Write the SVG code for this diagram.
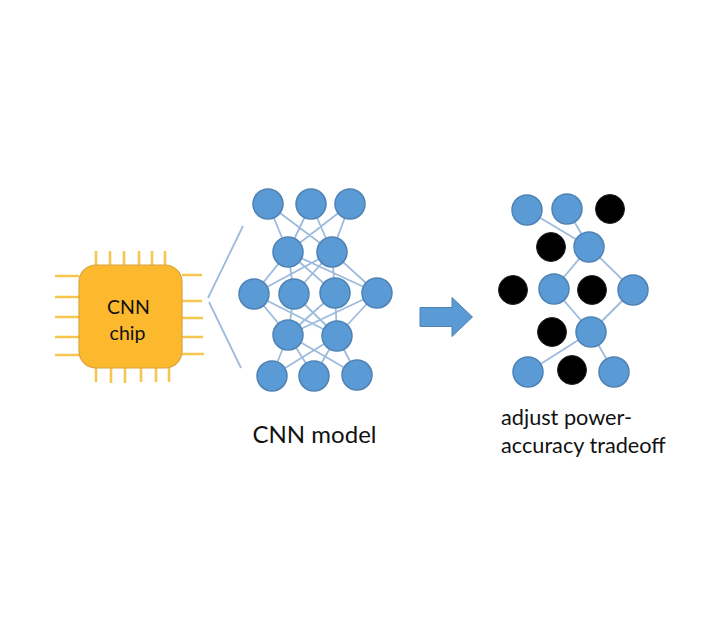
<svg xmlns="http://www.w3.org/2000/svg" width="720" height="630" viewBox="0 0 720 630">
<defs><style>
.n{fill:#5b9bd5;stroke:#4f82b4;stroke-width:1.5}
.k{fill:#000;stroke:#222;stroke-width:1}
.e{stroke:#9dbbdc;stroke-width:1.8;fill:none}
.p{stroke:#f6c64f;stroke-width:2.6;fill:none}
text{font-family:Lato,"Open Sans",sans-serif;fill:#111}
</style></defs>
<rect width="720" height="630" fill="#fff"/>
<g id="chip">
<path class="p" d="M96 251V265M110 251V265M124 251V265M139 251V265M152 251V265M165 251V265M96 368V382M111 368V383M125 368V383M141 368V382M156 368V382M169 368V382M55 276H79M55 297H79M55 317H79M55 337H79M55 355H79M182 275H202M182 301H202M182 318H203M182 337H203M182 354H204"/>
<rect x="79" y="265" width="103" height="103" rx="17" fill="#fdb92d" stroke="#d9a441" stroke-width="1.2"/>
<text x="128.500" y="313.500" font-size="19.500" text-anchor="middle">CNN</text>
<text x="127.500" y="340" font-size="19.500" text-anchor="middle">chip</text>
</g>
<g id="connectors">
<path class="e" d="M243 226L208 298M209 302L241 368"/>
<path class="e" d="M268 204L288 252M268 204L332 252M311 204L288 252M311 204L332 252M350 204L288 252M350 204L332 252M288 252L254 294M288 252L294 294M288 252L335 293M288 252L377 293M332 252L254 294M332 252L294 294M332 252L335 293M332 252L377 293M254 294L288 335M254 294L337 336M294 294L288 335M294 294L337 336M335 293L288 335M335 293L337 336M377 293L288 335M377 293L337 336M288 335L272 376M288 335L314 376M288 335L357 375M337 336L272 376M337 336L314 376M337 336L357 375"/>
<path class="e" d="M527 210L589 247M567 209L589 247M589 247L554 289M589 247L633 290M554 289L591 332M633 290L591 332M591 332L528 372M591 332L614 372"/>
</g>
<g id="model">
<circle class="n" cx="268" cy="204" r="15"/><circle class="n" cx="311" cy="204" r="15"/><circle class="n" cx="350" cy="204" r="15"/>
<circle class="n" cx="288" cy="252" r="15"/><circle class="n" cx="332" cy="252" r="15"/>
<circle class="n" cx="254" cy="294" r="15"/><circle class="n" cx="294" cy="294" r="15"/><circle class="n" cx="335" cy="293" r="15"/><circle class="n" cx="377" cy="293" r="15"/>
<circle class="n" cx="288" cy="335" r="15"/><circle class="n" cx="337" cy="336" r="15"/>
<circle class="n" cx="272" cy="376" r="15"/><circle class="n" cx="314" cy="376" r="15"/><circle class="n" cx="357" cy="375" r="15"/>
<text x="314.500" y="443" font-size="24" text-anchor="middle">CNN model</text>
</g>
<g id="arrow"><path d="M420 307.500H452V297.500L472.500 317L452 336.500V326.500H420Z" fill="#5b9bd5" stroke="#4f82b4" stroke-width="1"/></g>
<g id="pruned">
<circle class="n" cx="527" cy="210" r="15"/><circle class="n" cx="567" cy="209" r="15"/><circle class="k" cx="610" cy="209" r="14.500"/>
<circle class="k" cx="551" cy="247" r="14.500"/><circle class="n" cx="589" cy="247" r="15"/>
<circle class="k" cx="513" cy="290" r="14.500"/><circle class="n" cx="554" cy="289" r="15"/><circle class="k" cx="592" cy="290" r="14.500"/><circle class="n" cx="633" cy="290" r="15"/>
<circle class="k" cx="552" cy="332" r="14.500"/><circle class="n" cx="591" cy="332" r="15"/>
<circle class="n" cx="528" cy="372" r="15"/><circle class="k" cx="572" cy="370" r="14.500"/><circle class="n" cx="614" cy="372" r="15"/>
<text x="501" y="425" font-size="21.700">adjust power-</text>
<text x="501" y="453" font-size="21.700">accuracy tradeoff</text>
</g>
</svg>
